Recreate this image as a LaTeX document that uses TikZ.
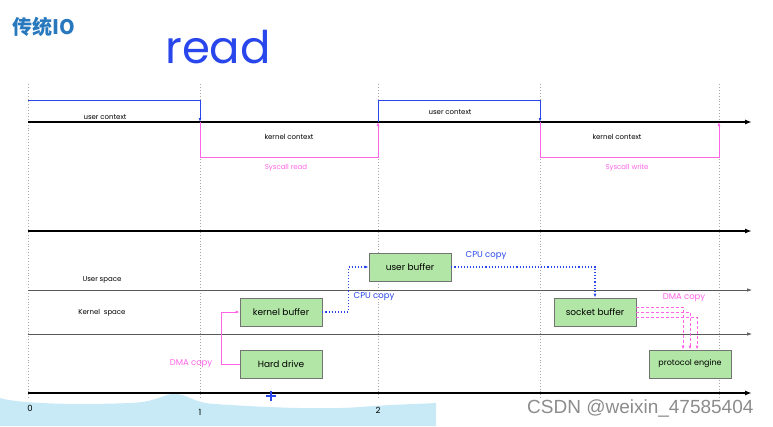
\documentclass[tikz,border=0pt]{standalone}
\usepackage{fontspec}
\setsansfont{Poppins}
\newfontfamily\cjk{Noto Sans CJK SC}
\newfontfamily\wmfont{Liberation Sans}
\usetikzlibrary{arrows.meta}
\definecolor{boxgreen}{RGB}{178,230,166}
\definecolor{pinkc}{RGB}{255,100,230}
\definecolor{bluec}{RGB}{40,70,235}
\definecolor{titleblue}{RGB}{40,120,190}
\definecolor{wave}{RGB}{200,234,246}
\begin{document}
\begin{tikzpicture}[x=1pt,y=-1pt,
  vgrid/.style={draw=gray!70, dotted, line width=0.9pt},
  mainaxis/.style={draw=black, line width=1.5pt, -{Latex[length=7pt,width=5pt]}},
  thinaxis/.style={draw=black!65, line width=0.7pt, -{Latex[length=5pt,width=3.5pt]}},
  ctxblue/.style={draw=bluec, line width=0.9pt, -{Latex[length=4pt,width=3pt]}},
  ctxpink/.style={draw=pinkc, line width=0.9pt, -{Latex[length=4pt,width=3pt]}},
  buf/.style={draw=black!55, line width=0.7pt, fill=boxgreen, minimum width=82pt, minimum height=28pt, inner sep=0pt, font=\sffamily\fontsize{9}{10}\selectfont},
  small/.style={font=\sffamily\fontsize{7}{8}\selectfont, inner sep=1pt},
  lbl/.style={font=\sffamily\fontsize{8.5}{10}\selectfont, inner sep=1pt},
  cpu/.style={draw=bluec, line width=1.1pt, dotted, -{Latex[length=4pt,width=3pt]}},
  dma/.style={draw=pinkc, line width=0.9pt, -{Latex[length=4pt,width=3pt]}},
  dmad/.style={draw=pinkc, line width=1pt, dash pattern=on 3pt off 2pt, -{Latex[length=4pt,width=3pt]}}
]
\useasboundingbox (0,0) rectangle (773,426);
% wave highlight
\fill[wave] (0,398) .. controls (20,404) and (80,405) .. (130,403) .. controls (160,402) and (165,392) .. (178,394) .. controls (190,396) and (195,403) .. (215,404) .. controls (260,407) and (320,410) .. (360,407) .. controls (400,404) and (420,404) .. (436,403) -- (436,426) -- (0,426) -- cycle;
% title
\node[font=\cjk\bfseries\fontsize{20}{24}\selectfont, text=titleblue, anchor=west, inner sep=0pt] (title) at (12,27) {传统IO};
\node[font=\sffamily\fontsize{45}{50}\selectfont, text=bluec, inner sep=0pt] (hand) at (218,47) {read};
% vertical grid
\foreach \x/\n in {28/0,200/1,378/2,540/3,719/4}{
  \coordinate (g\n t) at (\x,84);
  \coordinate (g\n b) at (\x,398);
  \draw[vgrid] (g\n t) -- (g\n b);
}
% top timeline
\coordinate (ax1s) at (28,122); \coordinate (ax1e) at (752,122);
\draw[mainaxis] (ax1s) -- (ax1e);
\coordinate (u1s) at (28,100); \coordinate (u1e) at (200,122);
\draw[ctxblue] (u1s) -| (u1e);
\coordinate (u2s) at (378,122); \coordinate (u2m) at (378,100); \coordinate (u2e) at (540,122);
\draw[ctxblue] (u2s) -- (u2m) -| (u2e);
\coordinate (k1s) at (200,122); \coordinate (k1m) at (200,157); \coordinate (k1e) at (378,122);
\draw[ctxpink] (k1s) -- (k1m) -| (k1e);
\coordinate (k2s) at (540,122); \coordinate (k2m) at (540,157); \coordinate (k2e) at (719,122);
\draw[ctxpink] (k2s) -- (k2m) -| (k2e);
\node[small] (uc1) at (105,117) {user context};
\node[small] (kc1) at (289,137) {kernel context};
\node[small, text=pinkc] (sr) at (286,168) {Syscall read};
\node[small] (uc2) at (450,112) {user context};
\node[small] (kc2) at (617,137) {kernel context};
\node[small, text=pinkc] (sw) at (627,168) {Syscall write};
% lower axes
\coordinate (ax2s) at (28,231); \coordinate (ax2e) at (752,231);
\draw[mainaxis] (ax2s) -- (ax2e);
\coordinate (ax3s) at (28,290); \coordinate (ax3e) at (752,290);
\draw[thinaxis] (ax3s) -- (ax3e);
\coordinate (ax4s) at (28,334); \coordinate (ax4e) at (752,334);
\draw[thinaxis] (ax4s) -- (ax4e);
\coordinate (ax5s) at (28,393); \coordinate (ax5e) at (752,393);
\draw[mainaxis] (ax5s) -- (ax5e);
\node[small] (us) at (102,280) {User space};
\node[small] (ks) at (102,313) {Kernel\ \ space};
% boxes
\node[buf] (ub) at (410,267) {user buffer};
\node[buf] (kb) at (281,312) {kernel buffer};
\node[buf] (hd) at (281,364) {Hard drive};
\node[buf] (sb) at (595,312) {socket buffer};
\node[buf, font=\sffamily\fontsize{8}{9}\selectfont] (pe) at (690,364) {protocol engine};
% DMA copy hard drive -> kernel buffer
\draw[dma] (hd.west) -- ++(-18,0) |- (kb.west);
\node[lbl, text=pinkc] (dma1) at (191,364) {DMA copy};
% CPU copies
\draw[cpu] (kb.east) -- ++(26,0) |- (ub.west);
\node[lbl, text=bluec] (cpu1) at (374,297) {CPU copy};
\draw[cpu] (ub.east) -| (sb.north);
\node[lbl, text=bluec] (cpu2) at (486,256) {CPU copy};
% DMA copy socket -> protocol engine (triple dashed)
\draw[dmad] ([yshift=-5pt]sb.east) -| ([xshift=7pt]pe.north);
\draw[dmad] (sb.east) -| (pe.north);
\draw[dmad] ([yshift=5pt]sb.east) -| ([xshift=-7pt]pe.north);
\node[lbl, text=pinkc] (dma2) at (684,298) {DMA copy};
% tick labels
\node[font=\sffamily\fontsize{8.5}{9}\selectfont, inner sep=0pt] (n0) at (30,408) {0};
\node[font=\sffamily\fontsize{8.5}{9}\selectfont, inner sep=0pt] (n1) at (200,412) {1};
\node[font=\sffamily\fontsize{8.5}{9}\selectfont, inner sep=0pt] (n2) at (378,410) {2};
% cursor (drawn cross)
\draw[bluec, line width=2pt] (266,396) -- (276,396) (271,391) -- (271,401);
% watermark
\node[text=black!45, font=\wmfont\fontsize{19}{21}\selectfont, anchor=west, inner sep=0pt] (wm) at (527,408) {CSDN @weixin\_47585404};
\end{tikzpicture}
\end{document}
